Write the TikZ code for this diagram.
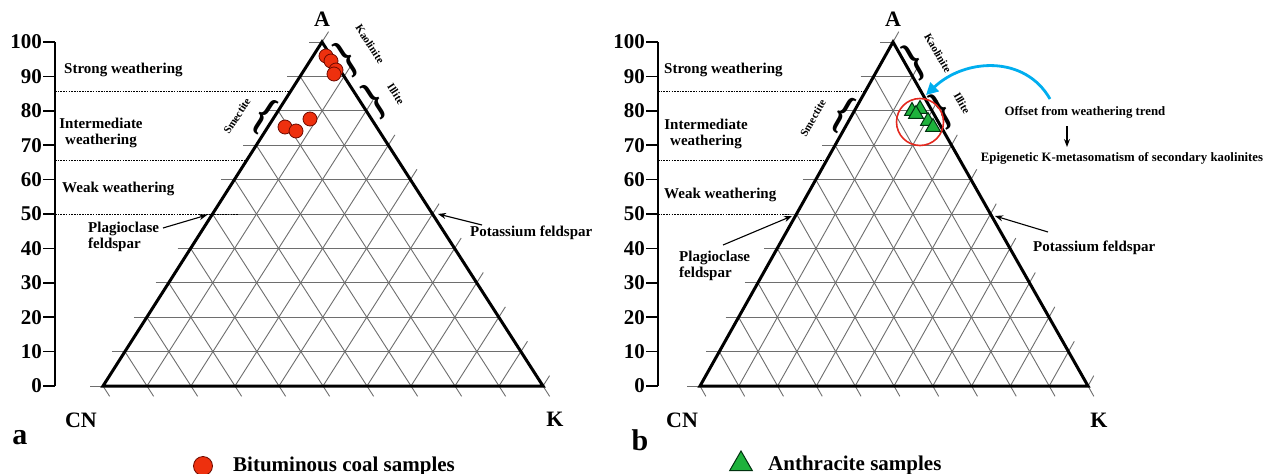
\documentclass[tikz,border=0pt]{standalone}
\usepackage{fontspec}
\setmainfont{Liberation Serif}
\usetikzlibrary{calc,decorations.pathreplacing,arrows.meta,shapes.geometric}
\definecolor{gridgray}{RGB}{110,110,110}
\definecolor{dotred}{RGB}{238,48,14}
\definecolor{dotredline}{RGB}{110,10,0}
\definecolor{trigreen}{RGB}{30,178,60}
\definecolor{trigreenline}{RGB}{0,50,15}
\definecolor{arrowblue}{RGB}{0,174,239}
\definecolor{ringred}{RGB}{228,40,30}
\tikzset{
  gridline/.style={draw=gridgray, line width=0.9pt},
  edge/.style={draw=black, line width=3pt, line join=miter},
  axisline/.style={draw=black, line width=1.7pt},
  dotline/.style={draw=black, line width=0.9pt, dash pattern=on 1.6pt off 1.1pt},
  axnum/.style={font=\bfseries\fontsize{21}{23}\selectfont, inner sep=0pt},
  txt/.style={font=\bfseries\fontsize{15}{16}\selectfont, inner sep=0pt},
  smalltxt/.style={font=\bfseries\fontsize{11}{12}\selectfont, inner sep=0pt},
  notetxt/.style={font=\bfseries\fontsize{12.8}{14}\selectfont, inner sep=0pt},
  vertex/.style={font=\bfseries\fontsize{22}{24}\selectfont, inner sep=0pt},
  panel/.style={font=\bfseries\fontsize{30}{32}\selectfont, inner sep=0pt},
  legendtxt/.style={font=\bfseries\fontsize{21}{23}\selectfont, inner sep=0pt},
  bracechar/.style={font=\bfseries\fontsize{47}{47}\selectfont, inner sep=0pt},
  pointer/.style={draw=black, line width=1.1pt, -{Stealth[length=8pt,width=6pt]}},
  bitdot/.style={circle, fill=dotred, draw=dotredline, line width=0.8pt, minimum size=14pt, inner sep=0pt},
  anthri/.style={regular polygon, regular polygon sides=3, fill=trigreen, draw=trigreenline, line width=1pt, minimum size=17pt, inner sep=0pt},
}
\newcommand\terngrid[1]{%
  \coordinate (#1dKA) at ($0.03*(#1K)-0.03*(#1A)$);
  \coordinate (#1dAC) at ($0.03*(#1A)-0.03*(#1CN)$);
  \foreach \i in {0,...,10}{
    \draw[gridline] ($(#1CN)!\i/10!(#1A)+(-13,0)$) -- ($(#1K)!\i/10!(#1A)$);
    \draw[gridline] ($(#1CN)!\i/10!(#1A)$) -- ($(#1CN)!\i/10!(#1K)+(#1dKA)$);
    \draw[gridline] ($(#1CN)!\i/10!(#1K)$) -- ($(#1A)!\i/10!(#1K)+(#1dAC)$);
  }
  \draw[edge] (#1CN) -- (#1A) -- (#1K) -- cycle;
}
\newcommand\ternaxis[2]{%
  \draw[axisline] (#2,42) -- (#2,386);
  \foreach \i in {0,...,10}{
    \pgfmathsetmacro\yy{386-34.4*\i}
    \pgfmathtruncatemacro\vv{10*\i}
    \draw[axisline] (#2-12,\yy) -- (#2,\yy);
    \node[axnum, anchor=east] (#1num\i) at (#2-13,\yy) {\vv};
  }
}
\begin{document}
\begin{tikzpicture}[x=1pt,y=-1pt]
\fill[white] (0,0) rectangle (1270,474);
\useasboundingbox (0,0) rectangle (1270,474);

% ================= panel a =================
\coordinate (LCN) at (103,386);
\coordinate (LK) at (543,386);
\coordinate (LA) at (322,42);
\terngrid{L}
\ternaxis{L}{55}
\draw[dotline] (55,91) -- (290,91);
\draw[dotline] (55,160) -- (247,160);
\draw[dotline] (55,214) -- (238,214);

\node[txt, anchor=west] (strongL) at (64,70) {Strong weathering};
\node[txt, align=center] (interL) at (101,133) {Intermediate\\weathering};
\node[txt, anchor=west] (weakL) at (62,189) {Weak weathering};
\node[txt, align=left, anchor=west] (plagL) at (88,237) {Plagioclase\\feldspar};
\node[txt, anchor=west] (potL) at (470,233) {Potassium feldspar};
\coordinate (plagLtail) at (163,228);
\coordinate (plagLtip) at (207,215);
\coordinate (potLtail) at (482,225);
\coordinate (potLtip) at (438,214);
\draw[pointer] (plagLtail) -- (plagLtip);
\draw[pointer] (potLtail) -- (potLtip);

\node[vertex] (labAL) at (322,19) {A};
\node[vertex] (labCNL) at (81,420) {CN};
\node[vertex] (labKL) at (555,419) {K};
\node[panel] (pa) at (20,438) {a};

\node[bracechar, rotate=33, xscale=0.7] (kaoLb) at (347,59) {\}};
\node[bracechar, rotate=33, xscale=0.7] (illLb) at (375,101) {\}};
\node[bracechar, rotate=-33, xscale=0.7] (smeLb) at (264,116) {\{};
\node[smalltxt, rotate=-57] (kaoLt) at (370,44) {Kaolinite};
\node[smalltxt, rotate=-57] (illLt) at (396,94) {Illite};
\node[smalltxt, rotate=57] (smeLt) at (237,116) {Smectite};

\node[bitdot] (s1) at (326,56) {};
\node[bitdot] (s2) at (331,61) {};
\node[bitdot] (s3) at (336,70) {};
\node[bitdot] (s4) at (334,74) {};
\node[bitdot] (s5) at (310,119) {};
\node[bitdot] (s6) at (285,127) {};
\node[bitdot] (s7) at (296,131) {};

\node[bitdot, minimum size=19pt] (legL) at (203,466) {};
\node[legendtxt, anchor=west] (legLt) at (233,466) {Bituminous coal samples};

% ================= panel b =================
\coordinate (RCN) at (700,386);
\coordinate (RK) at (1088,386);
\coordinate (RA) at (893,42);
\terngrid{R}
\ternaxis{R}{658}
\draw[dotline] (658,91) -- (865,91);
\draw[dotline] (658,160) -- (827,160);
\draw[dotline] (658,214) -- (788,214);

\node[txt, anchor=west] (strongR) at (664,70) {Strong weathering};
\node[txt, align=center] (interR) at (706,134) {Intermediate\\weathering};
\node[txt, anchor=west] (weakR) at (664,195) {Weak weathering};
\node[txt, align=left, anchor=west] (plagR) at (679,266) {Plagioclase\\feldspar};
\node[txt, anchor=west] (potR) at (1033,248) {Potassium feldspar};
\coordinate (plagRtail) at (723,245);
\coordinate (plagRtip) at (792,216);
\coordinate (potRtail) at (1048,232);
\coordinate (potRtip) at (995,216);
\draw[pointer] (plagRtail) -- (plagRtip);
\draw[pointer] (potRtail) -- (potRtip);

\node[vertex] (labAR) at (893,19) {A};
\node[vertex] (labCNR) at (682,420) {CN};
\node[vertex] (labKR) at (1099,420) {K};
\node[panel] (pb) at (640,440) {b};

\node[bracechar, rotate=30, xscale=0.7] (kaoRb) at (915,62) {\}};
\node[bracechar, rotate=30, xscale=0.7] (illRb) at (942,111) {\}};
\node[bracechar, rotate=-30, xscale=0.7] (smeRb) at (843,114) {\{};
\node[smalltxt, rotate=-60] (kaoRt) at (938,53) {Kaolinite};
\node[smalltxt, rotate=-60] (illRt) at (962,103) {Illite};
\node[smalltxt, rotate=60] (smeRt) at (813,118) {Smectite};

\node[draw=ringred, line width=1.6pt, circle, minimum size=47pt, inner sep=0pt] (ring) at (920,122) {};
\node[anthri] (t1) at (912,111) {};
\node[anthri] (t2) at (920,109) {};
\node[anthri] (t3) at (916,114) {};
\node[anthri] (t4) at (928,121) {};
\node[anthri] (t5) at (933,127) {};

\node[notetxt] (offset) at (1085,112) {Offset from weathering trend};
\node[notetxt] (epi) at (1122,158) {Epigenetic K-metasomatism of secondary kaolinites};
\coordinate (downStart) at (1067,126);
\coordinate (downEnd) at (1067,147);
\draw[pointer] (downStart) -- (downEnd);
\coordinate (blueStart) at (1050,99);
\coordinate (blueEnd) at (926,95);
\draw[draw=arrowblue, line width=2.8pt, -{Triangle[length=12pt,width=12pt]}]
  (blueStart) .. controls (1025,55) and (965,58) .. (blueEnd);

\node[anthri, minimum size=26pt] (legR) at (741,464) {};
\node[legendtxt, anchor=west] (legRt) at (768,465) {Anthracite samples};
\end{tikzpicture}
\end{document}
